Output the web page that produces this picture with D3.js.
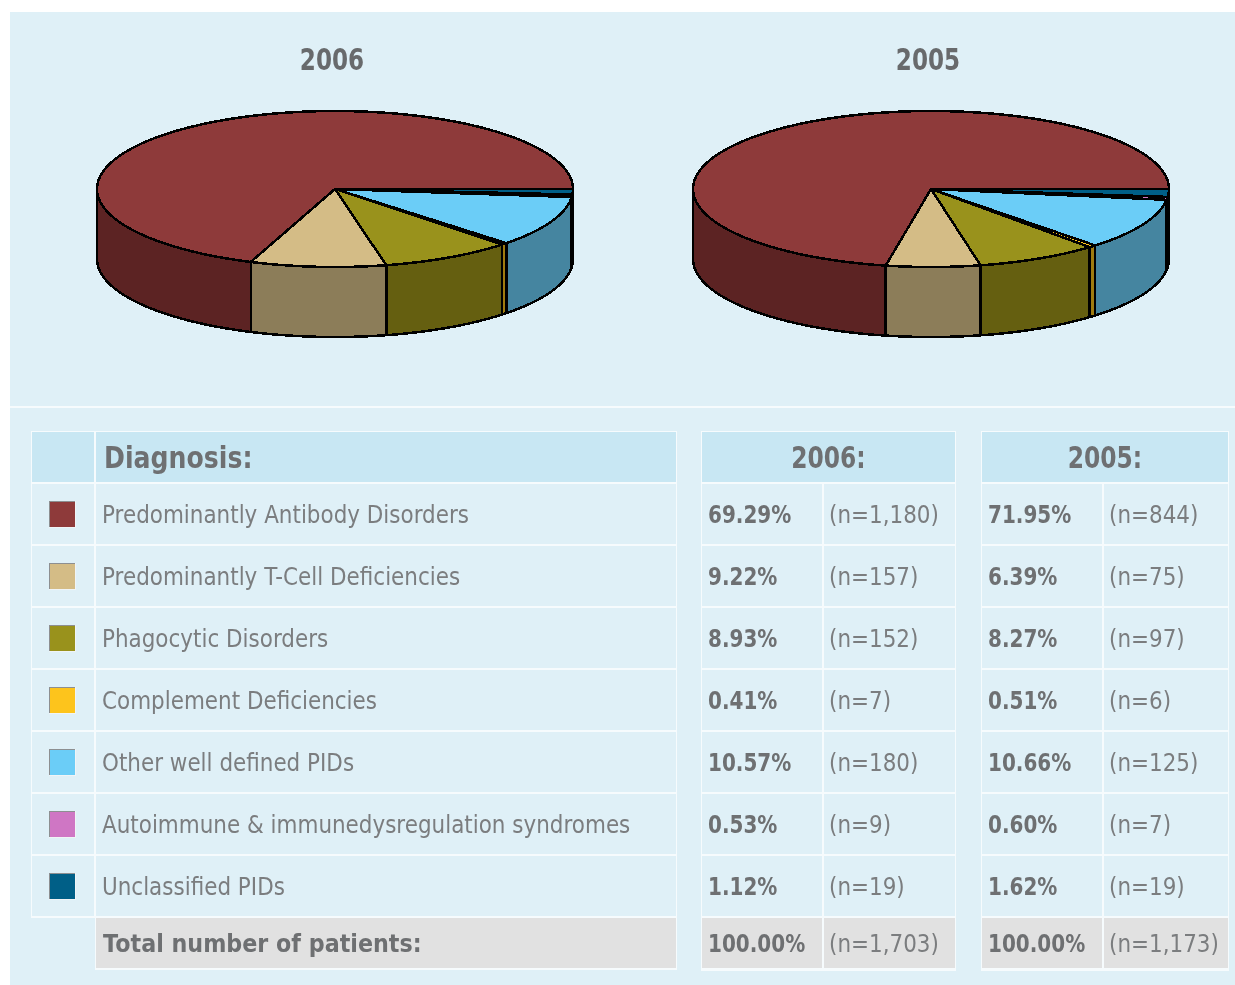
<!DOCTYPE html>
<html>
<head>
<meta charset="utf-8">
<script src="https://cdn.jsdelivr.net/npm/d3@7"></script>
<style>
  html, body { margin: 0; padding: 0; background: #fff; }
  svg { display: block; filter: blur(0.55px); }
  text { font-family: "DejaVu Sans", sans-serif; }
</style>
</head>
<body>
<svg id="chart" width="1235" height="985"></svg>
<script>
/* Data */
const diagnoses = [
  "Predominantly Antibody Disorders",
  "Predominantly T-Cell Deficiencies",
  "Phagocytic Disorders",
  "Complement Deficiencies",
  "Other well defined PIDs",
  "Autoimmune & immunedysregulation syndromes",
  "Unclassified PIDs"
];
const years = ["2006", "2005"];
const percent2006 = [69.29, 9.22, 8.93, 0.41, 10.57, 0.53, 1.12];
const percent2005 = [71.95, 6.39, 8.27, 0.51, 10.66, 0.60, 1.62];
const count2006 = ["1,180", "157", "152", "7", "180", "9", "19"];
const count2005 = ["844", "75", "97", "6", "125", "7", "19"];
const total2006 = "1,703";
const total2005 = "1,173";

/* Colours: slice top, slice wall */
const topColors = ["#8e3a3a", "#d4bc86", "#99921c", "#fdc41c", "#6bcdf7", "#cf76c4", "#005f87"];
const wallColors = ["#5c2323", "#8c7d59", "#655f10", "#a07c10", "#4585a0", "#8a4f82", "#003f5a"];

const svg = d3.select("#chart");
const grey = "#6e7072";
const lightGrey = "#7b7d7f";

/* Text helper: the reference type is tall and narrow, so squeeze horizontally */
function label(x, y, str, opts) {
  const o = Object.assign({ size: 25, weight: "normal", sx: 0.86, fill: lightGrey, anchor: "start" }, opts);
  svg.append("text")
    .attr("transform", `translate(${x},${y}) scale(${o.sx},1)`)
    .attr("text-anchor", o.anchor)
    .attr("font-size", o.size)
    .attr("font-weight", o.weight)
    .attr("fill", o.fill)
    .text(str);
}

/* Background panels */
svg.append("rect").attr("x", 10).attr("y", 12).attr("width", 1225).attr("height", 973).attr("fill", "#dff0f7");
svg.append("rect").attr("x", 10).attr("y", 406).attr("width", 1225).attr("height", 2).attr("fill", "#f6fbfd");

/* Pies */
const pieGen = d3.pie().sort(null).value(d => d).startAngle(0).endAngle(2 * Math.PI);
const pieDepth = 70;

function drawPie(values, centerX, title) {
  const xScale = d3.scaleLinear().domain([-1, 1]).range([centerX - 238, centerX + 238]);
  const yScale = d3.scaleLinear().domain([-1, 1]).range([267, 111]);
  const px = a => xScale(Math.cos(a));
  const py = a => yScale(Math.sin(a));
  const line = d3.line().x(d => d[0]).y(d => d[1]);
  const sweep = (a0, a1) => {
    const n = Math.max(2, Math.ceil((a1 - a0) / 0.02));
    return d3.range(n + 1).map(i => a0 + (a1 - a0) * i / n);
  };

  const arcs = pieGen(values);
  const g = svg.append("g").attr("shape-rendering", "crispEdges")
    .attr("stroke", "#000").attr("stroke-width", 2.5).attr("stroke-linejoin", "round");

  /* Outer walls: only the front half of the ellipse shows */
  arcs.forEach((d, i) => {
    const a0 = Math.max(d.startAngle, Math.PI);
    const a1 = d.endAngle;
    if (a1 <= a0) return;
    const angles = sweep(a0, a1);
    const upper = angles.map(a => [px(a), py(a)]);
    const lower = angles.slice().reverse().map(a => [px(a), py(a) + pieDepth]);
    g.append("path")
      .attr("d", line(upper.concat(lower)) + "Z")
      .attr("fill", wallColors[i]);
  });

  /* Top faces */
  arcs.forEach((d, i) => {
    const rim = sweep(d.startAngle, d.endAngle).map(a => [px(a), py(a)]);
    g.append("path")
      .attr("d", line([[xScale(0), yScale(0)]].concat(rim)) + "Z")
      .attr("fill", topColors[i]);
  });

  label(centerX - 3, 70, title, { size: 30, weight: "bold", sx: 0.77, fill: "#686a6c", anchor: "middle" });
}

drawPie(percent2006, 335, years[0]);
drawPie(percent2005, 931, years[1]);

/* Table */
const rowScale = d3.scaleBand().domain(diagnoses).range([484, 916]).paddingInner(2 / 62);
const rowH = rowScale.bandwidth();
const headFill = "#c8e7f3";
const cellFill = "#dff0f7";
const totalFill = "#e1e1e1";
const borderFill = "#f6fbfd";
const headerTop = 432, headerH = 50, totalTop = 918, totalH = 50;

function cell(x, w, y, h, fill) {
  svg.append("rect").attr("x", x).attr("y", y).attr("width", w).attr("height", h).attr("fill", fill);
}

/* Diagnosis block */
cell(31, 646, 431, 487, borderFill);
cell(95, 582, 917, 53, borderFill);
cell(32, 62, headerTop, headerH, headFill);
cell(96, 580, headerTop, headerH, headFill);
label(104, 468, "Diagnosis:", { size: 30, weight: "bold", sx: 0.84, fill: grey });

diagnoses.forEach((name, i) => {
  const y = rowScale(name);
  cell(32, 62, y, rowH, cellFill);
  cell(96, 580, y, rowH, cellFill);
  /* swatch with the bevelled edge from the reference */
  cell(49, 27, y + 17, 27, "#f0f4f6");
  cell(49, 26, y + 17, 26, "#8d8f91");
  cell(50, 25, y + 18, 25, topColors[i]);
  label(102, y + 39, name);
});
cell(96, 580, totalTop, totalH, totalFill);
label(103, 952, "Total number of patients:", { weight: "bold", sx: 0.89, fill: grey });

/* Year blocks */
function yearBlock(x0, wPct, wN, year, percents, counts, total) {
  const wAll = wPct + 2 + wN;
  cell(x0 - 1, wAll + 2, 431, 540, borderFill);
  cell(x0, wAll, headerTop, headerH, headFill);
  label(x0 + wAll / 2, 468, year + ":", { size: 30, weight: "bold", sx: 0.78, fill: grey, anchor: "middle" });
  diagnoses.forEach((name, i) => {
    const y = rowScale(name);
    cell(x0, wPct, y, rowH, cellFill);
    cell(x0 + wPct + 2, wN, y, rowH, cellFill);
    label(x0 + 6, y + 39, percents[i].toFixed(2) + "%", { weight: "bold", sx: 0.8, fill: grey });
    label(x0 + wPct + 7, y + 39, "(n=" + counts[i] + ")");
  });
  cell(x0, wPct, totalTop, totalH, totalFill);
  cell(x0 + wPct + 2, wN, totalTop, totalH, totalFill);
  label(x0 + 6, 952, "100.00%", { weight: "bold", sx: 0.8, fill: grey });
  label(x0 + wPct + 7, 952, "(n=" + total + ")");
}

yearBlock(702, 120, 131, years[0], percent2006, count2006, total2006);
yearBlock(982, 120, 124, years[1], percent2005, count2005, total2005);
</script>
</body>
</html>
